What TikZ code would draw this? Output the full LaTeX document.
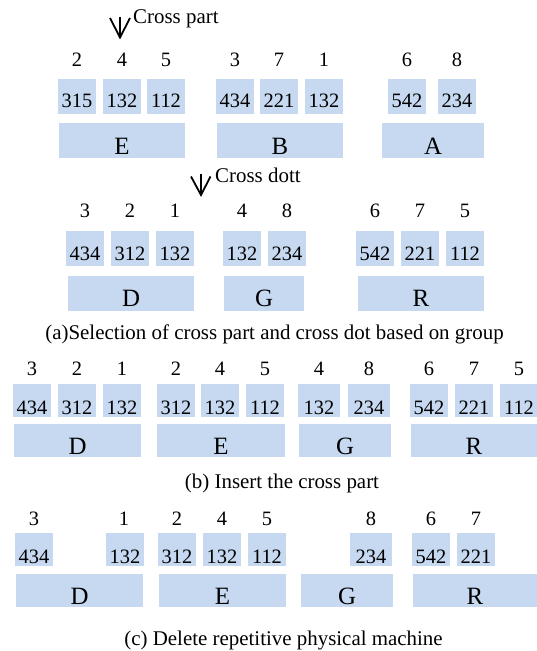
\documentclass[tikz,border=0pt]{standalone}
\usepackage{fontspec}
\setmainfont{Liberation Serif}
\definecolor{boxblue}{HTML}{C6D9F1}
\newcommand\numf{\fontsize{20.5}{24}\selectfont}
\newcommand\letf{\fontsize{25}{30}\selectfont}
\newcommand\capf{\fontsize{21}{25}\selectfont}
\tikzset{
  sA/.style={fill=boxblue,inner sep=0pt,minimum width=38bp,minimum height=35bp,text depth=0pt,text height=23bp,font=\numf},
  bA/.style={fill=boxblue,inner sep=0pt,minimum height=35bp,text depth=0pt,text height=27bp,font=\letf},
  sB/.style={sA,minimum height=33bp,text height=27bp},
  bB/.style={bA,minimum height=33bp,text height=27bp},
  num/.style={anchor=base,inner sep=0pt,font=\numf},
  capt/.style={anchor=base,inner sep=0pt,font=\capf},
  lbl/.style={anchor=base west,inner sep=0pt,font=\capf},
  arr/.style={line width=1.8bp,line cap=butt,line join=miter}
}
\begin{document}
\begin{tikzpicture}[x=1bp,y=-1bp]
\useasboundingbox[fill=white] (0,0) rectangle (537,651);
% ---------- row 1 ----------
\coordinate (a1top) at (120,17);
\coordinate (a1tip) at (120,37.5);
\coordinate (a1l) at (110,18);
\coordinate (a1r) at (130,18);
\draw[arr] (a1top) -- (a1tip);
\draw[arr] (a1l) -- (a1tip) -- (a1r);
\node[lbl] (crosspart) at (133,24) {Cross part};
\node[num] (n1a) at (77,67) {2};
\node[num] (n1b) at (122,67) {4};
\node[num] (n1c) at (166,67) {5};
\node[num] (n1d) at (235,67) {3};
\node[num] (n1e) at (279,67) {7};
\node[num] (n1f) at (324,67) {1};
\node[num] (n1g) at (407,67) {6};
\node[num] (n1h) at (457,67) {8};
\node[sA] (c1a) at (77,96.5) {315};
\node[sA] (c1b) at (122,96.5) {132};
\node[sA] (c1c) at (166,96.5) {112};
\node[sA] (c1d) at (235,96.5) {434};
\node[sA] (c1e) at (279,96.5) {221};
\node[sA] (c1f) at (324,96.5) {132};
\node[sA] (c1g) at (407,96.5) {542};
\node[sA] (c1h) at (457,96.5) {234};
\node[bA,minimum width=126bp] (g1E) at (122,140.5) {E};
\node[bA,minimum width=126bp] (g1B) at (280,140.5) {B};
\node[bA,minimum width=102bp] (g1A) at (433,140.5) {A};
% ---------- row 2 ----------
\coordinate (a2top) at (201,174);
\coordinate (a2tip) at (201,195);
\coordinate (a2l) at (191,176.5);
\coordinate (a2r) at (210.5,176.5);
\draw[arr] (a2top) -- (a2tip);
\draw[arr] (a2l) -- (a2tip) -- (a2r);
\node[lbl] (crossdott) at (215,182) {Cross dott};
\node[num] (n2a) at (85,217.5) {3};
\node[num] (n2b) at (130,217.5) {2};
\node[num] (n2c) at (175,217.5) {1};
\node[num] (n2d) at (242,217.5) {4};
\node[num] (n2e) at (287,217.5) {8};
\node[num] (n2f) at (375,217.5) {6};
\node[num] (n2g) at (420,217.5) {7};
\node[num] (n2h) at (465,217.5) {5};
\node[sA] (c2a) at (85,248.5) {434};
\node[sA] (c2b) at (130,248.5) {312};
\node[sA] (c2c) at (175,248.5) {132};
\node[sA] (c2d) at (242,248.5) {132};
\node[sA] (c2e) at (287,248.5) {234};
\node[sA] (c2f) at (375,248.5) {542};
\node[sA] (c2g) at (420,248.5) {221};
\node[sA] (c2h) at (465,248.5) {112};
\node[bA,minimum width=126bp] (g2D) at (131,293) {D};
\node[bA,minimum width=80bp] (g2G) at (264,293) {G};
\node[bA,minimum width=126bp] (g2R) at (421,293) {R};
\node[capt] (capa) at (274.5,339) {(a)Selection of cross part and cross dot based on group};
% ---------- row 3 ----------
\node[num] (n3a) at (32,375) {3};
\node[num] (n3b) at (77,375) {2};
\node[num] (n3c) at (122,375) {1};
\node[num] (n3d) at (176,375) {2};
\node[num] (n3e) at (220,375) {4};
\node[num] (n3f) at (265,375) {5};
\node[num] (n3g) at (319,375) {4};
\node[num] (n3h) at (369,375) {8};
\node[num] (n3i) at (429,375) {6};
\node[num] (n3j) at (474,375) {7};
\node[num] (n3k) at (519,375) {5};
\node[sB] (c3a) at (32,400.5) {434};
\node[sB] (c3b) at (77,400.5) {312};
\node[sB] (c3c) at (122,400.5) {132};
\node[sB] (c3d) at (176,400.5) {312};
\node[sB] (c3e) at (220,400.5) {132};
\node[sB] (c3f) at (265,400.5) {112};
\node[sB,minimum width=42bp] (c3g) at (319,400.5) {132};
\node[sB,minimum width=42bp] (c3h) at (369,400.5) {234};
\node[sB] (c3i) at (429,400.5) {542};
\node[sB] (c3j) at (474,400.5) {221};
\node[sB] (c3k) at (519,400.5) {112};
\node[bB,minimum width=127bp] (g3D) at (77.5,440.5) {D};
\node[bB,minimum width=128bp] (g3E) at (221,440.5) {E};
\node[bB,minimum width=92bp] (g3G) at (345,440.5) {G};
\node[bB,minimum width=126bp] (g3R) at (474,440.5) {R};
\node[capt] (capb) at (282,488) {(b) Insert the cross part};
% ---------- row 4 ----------
\node[num] (n4a) at (34,525) {3};
\node[num] (n4b) at (124,525) {1};
\node[num] (n4c) at (177,525) {2};
\node[num] (n4d) at (222,525) {4};
\node[num] (n4e) at (267,525) {5};
\node[num] (n4f) at (371,525) {8};
\node[num] (n4g) at (431,525) {6};
\node[num] (n4h) at (476,525) {7};
\node[sB] (c4a) at (34,549.5) {434};
\node[sB] (c4b) at (125,549.5) {132};
\node[sB] (c4c) at (177,549.5) {312};
\node[sB] (c4d) at (222,549.5) {132};
\node[sB] (c4e) at (267,549.5) {112};
\node[sB,minimum width=42bp] (c4f) at (371,549.5) {234};
\node[sB] (c4g) at (431,549.5) {542};
\node[sB] (c4h) at (476,549.5) {221};
\node[bB,minimum width=127bp] (g4D) at (79.5,590.5) {D};
\node[bB,minimum width=127bp] (g4E) at (222.5,590.5) {E};
\node[bB,minimum width=92bp] (g4G) at (347,590.5) {G};
\node[bB,minimum width=124bp] (g4R) at (475,590.5) {R};
\node[capt] (capc) at (283.5,645) {(c) Delete repetitive physical machine};
\end{tikzpicture}
\end{document}
